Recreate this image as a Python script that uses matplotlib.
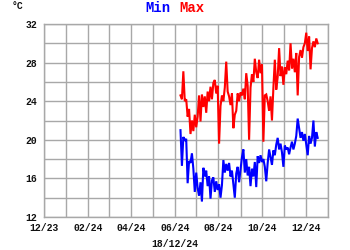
import matplotlib
matplotlib.use('Agg')
import matplotlib.pyplot as plt
import matplotlib.dates as mdates
from matplotlib.ticker import MultipleLocator
import pandas as pd

# daily readings, one every second day from 9 June 2024
START_DATE = '2024-06-09'
STEP = '2D'

temp_max = [
    24.6, 24.2, 27.1, 24.0, 24.2, 22.4, 23.2, 20.6, 22.0, 20.9,
    22.6, 21.3, 22.4, 24.6, 21.9, 24.7, 23.4, 24.5, 22.8, 25.0,
    24.0, 25.5, 24.2, 25.9, 26.2, 24.8, 25.6, 19.6, 23.5, 24.6,
    24.0, 25.4, 28.1, 25.0, 24.5, 23.6, 24.8, 21.2, 22.6, 23.0,
    24.8, 24.0, 24.9, 24.6, 25.3, 24.2, 26.9, 25.6, 20.0, 25.4,
    26.8, 26.0, 28.4, 27.0, 26.4, 28.3, 26.9, 27.8, 19.8, 24.6,
    24.7, 24.0, 23.0, 24.5, 22.0, 25.4, 28.3, 25.2, 26.5, 29.5,
    26.6, 27.6, 25.7, 27.5, 26.8, 28.2, 27.2, 30.0, 27.4, 28.4,
    27.0, 29.0, 24.6, 28.6, 29.3, 28.5, 29.6, 30.0, 31.1, 29.2,
    30.7, 27.3, 29.5, 30.2, 29.6, 30.5, 30.0,
]

temp_min = [
    21.0, 17.3, 20.3, 19.9, 20.1, 15.5, 17.8, 17.6, 18.6, 17.0,
    14.6, 16.6, 15.0, 14.2, 15.6, 13.6, 17.1, 16.2, 16.8, 15.2,
    16.2, 13.9, 15.8, 16.1, 14.6, 15.7, 14.8, 15.4, 14.0, 15.3,
    17.9, 16.6, 17.5, 16.8, 17.6, 16.2, 16.8, 15.4, 14.0, 16.5,
    17.2, 15.6, 16.9, 18.2, 19.0, 16.6, 18.0, 16.3, 17.2, 15.2,
    17.0, 16.2, 17.7, 15.1, 18.3, 17.6, 18.4, 17.7, 18.0, 17.2,
    15.7, 17.6, 19.0, 18.2, 17.4, 18.9, 18.4, 19.5, 20.2, 19.0,
    19.6, 18.7, 17.2, 19.4, 19.0, 19.2, 18.5, 19.2, 19.8, 19.0,
    19.6, 20.4, 22.2, 21.2, 20.2, 20.8, 19.9, 20.6, 19.5, 18.4,
    20.4, 19.6, 20.2, 22.0, 19.3, 20.8, 20.2,
]

X_START = '2023-12-01'
X_END = '2025-01-01'
Y_MIN, Y_MAX = 12, 32
DATE_LABEL = '18/12/24'
UNIT = '°C'

FONT = 'Liberation Mono'
GRID = '#a8a8a8'


def main():
    dates = pd.date_range(START_DATE, periods=len(temp_max), freq=STEP)

    fig = plt.figure(figsize=(3.5, 2.5), dpi=100)
    ax = fig.add_axes([0.1257, 0.132, 0.8106, 0.772])

    ax.plot(dates, temp_max, color='#ff0000', lw=1.5, solid_joinstyle='miter')
    ax.plot(dates, temp_min, color='#0000ff', lw=1.5, solid_joinstyle='miter')

    ax.set_xlim(pd.Timestamp(X_START), pd.Timestamp(X_END))
    ax.set_ylim(Y_MIN, Y_MAX)

    ax.xaxis.set_major_locator(mdates.MonthLocator(bymonth=[12, 2, 4, 6, 8, 10]))
    ax.xaxis.set_minor_locator(mdates.MonthLocator())
    ax.xaxis.set_major_formatter(mdates.DateFormatter('%m/%y'))
    ax.yaxis.set_major_locator(MultipleLocator(4))
    ax.yaxis.set_minor_locator(MultipleLocator(2))

    ax.grid(which='both', color=GRID, lw=1.0)
    ax.set_axisbelow(True)
    for side in ax.spines.values():
        side.set_color(GRID)
        side.set_linewidth(1.0)

    ax.tick_params(which='both', length=0)
    ax.tick_params(axis='x', pad=4)
    ax.tick_params(axis='y', pad=5)
    for lab in ax.get_xticklabels() + ax.get_yticklabels():
        lab.set_fontfamily(FONT)
        lab.set_fontweight('bold')
        lab.set_fontsize(7)
        lab.set_color('#111111')
    # the "12" sits a touch high so it clears the first date label
    ax.get_yticklabels()[0].set_verticalalignment('center_baseline')

    fig.text(170 / 350, 1 - 8 / 250, 'Min', color='#0000ff', ha='right', va='center',
             family=FONT, weight='bold', fontsize=10)
    fig.text(179 / 350, 1 - 8 / 250, 'Max', color='#ff0000', ha='left', va='center',
             family=FONT, weight='bold', fontsize=10)
    fig.text(12 / 350, 1 - 6 / 250, UNIT, color='#111111', ha='left', va='center',
             family=FONT, weight='bold', fontsize=7)
    fig.text(175 / 350, 1 - 244 / 250, DATE_LABEL, color='#111111', ha='center', va='center',
             family=FONT, weight='bold', fontsize=7)

    fig.savefig('out.png', dpi=100)
    plt.close(fig)


if __name__ == '__main__':
    main()
